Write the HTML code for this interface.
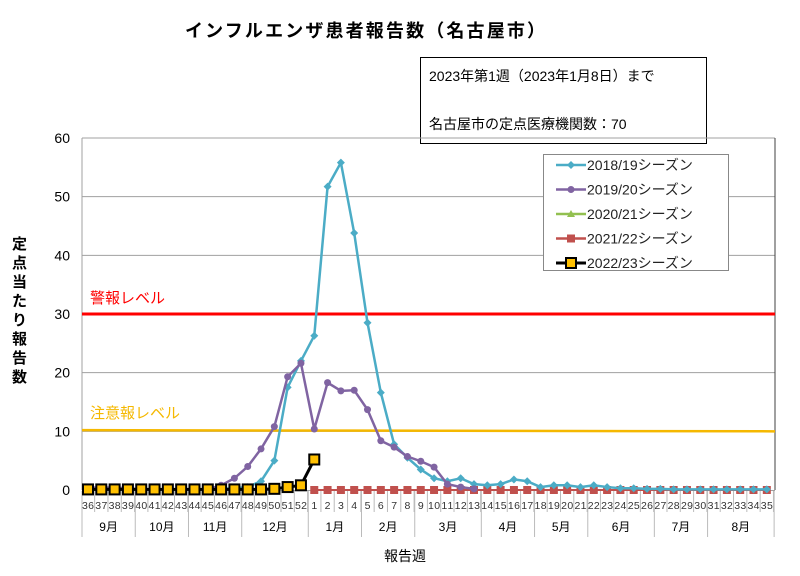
<!DOCTYPE html>
<html><head><meta charset="utf-8">
<style>
body{margin:0;background:#fff;}
svg text{font-family:"Liberation Sans","Noto Sans CJK JP",sans-serif;}
</style></head><body>
<svg id="c" width="800" height="571" xmlns="http://www.w3.org/2000/svg"></svg>
<script>
const s=document.getElementById('c');let h='';
const X=i=>88+i*13.31, Y=v=>490-v*5.867;
h+='<rect width="800" height="571" fill="#fff"/>';
h+='<text x="365" y="37" font-size="18" font-weight="bold" text-anchor="middle" fill="#000" textLength="360">インフルエンザ患者報告数（名古屋市）</text>';
h+='<rect x="420.5" y="57.5" width="286" height="86" fill="#fff" stroke="#000"/>';
h+='<text x="429" y="81" font-size="14">2023年第1週（2023年1月8日）まで</text>';
h+='<text x="429" y="129" font-size="14">名古屋市の定点医療機関数：70</text>';
for(let v=10;v<=60;v+=10){h+=`<line x1="82" x2="775" y1="${Y(v)}" y2="${Y(v)}" stroke="#a0a0a0"/>`;}
for(let v=0;v<=60;v+=10){h+=`<text x="70" y="${Y(v)+5}" font-size="14" text-anchor="end">${v}</text>`;}
h+='<line x1="82" x2="82" y1="138" y2="490" stroke="#a0a0a0"/><line x1="775" x2="775" y1="138" y2="490" stroke="#404040"/>';
h+='<line x1="82" x2="775" y1="490.5" y2="490.5" stroke="#a0a0a0"/>';
h+='<text font-size="15" font-weight="bold" x="0" y="0" transform="translate(12,249)">'+[...'定点当たり報告数'].map((c,i)=>`<tspan x="0" y="${i*19}">${c}</tspan>`).join('')+'</text>';
const wk=[];for(let w=36;w<=52;w++)wk.push(w);for(let w=1;w<=35;w++)wk.push(w);
wk.forEach((w,i)=>{h+=`<text x="${X(i)}" y="509" font-size="10.5" text-anchor="middle" fill="#333" textLength="${w>9?12:6}">${w}</text>`;
h+=`<line x1="${X(i)+6.65}" x2="${X(i)+6.65}" y1="491" y2="${512}" stroke="#bbb"/>`;});
const mb=[[0,'9月'],[4,'10月'],[8,'11月'],[12,'12月'],[17,'1月'],[21,'2月'],[25,'3月'],[30,'4月'],[34,'5月'],[38,'6月'],[43,'7月'],[47,'8月'],[52,'']];
h+=`<line x1="82" x2="82" y1="491" y2="537" stroke="#bbb"/>`;
for(let k=0;k<mb.length-1;k++){const a=82+mb[k][0]*13.31,b=82+mb[k+1][0]*13.31;h+=`<line x1="${b}" x2="${b}" y1="491" y2="537" stroke="#bbb"/><text x="${(a+b)/2}" y="531" font-size="12" text-anchor="middle">${mb[k][1]}</text>`;}
h+='<text x="405" y="561" font-size="14" text-anchor="middle">報告週</text>';
h+=`<line x1="82" x2="775" y1="${Y(30)}" y2="${Y(30)}" stroke="#f00" stroke-width="3"/>`;
h+=`<line x1="82" x2="775" y1="${Y(10.2)}" y2="${Y(10)}" stroke="#f5b800" stroke-width="2.5"/>`;
h+='<text x="90" y="303" font-size="15" fill="#f00">警報レベル</text><text x="90" y="418" font-size="15" fill="#f5b800">注意報レベル</text>';
function line(d,st,col,w,mk,start){let p=d.map((v,i)=>`${X(i+start)},${Y(v)}`).join(' ');h+=`<polyline points="${p}" fill="none" stroke="${col}" stroke-width="${w}"/>`;d.forEach((v,i)=>h+=mk(X(i+start),Y(v)));}
const z=n=>Array(n).fill(0);
const red=z(35);
line(z(35),0,'#92c050',2,(x,y)=>`<polygon points="${x},${y-4} ${x+4},${y+3} ${x-4},${y+3}" fill="#92c050"/>`,17);
line(red,0,'#c0504d',2,(x,y)=>`<rect x="${x-4}" y="${y-4}" width="8" height="8" fill="#c0504d"/>`,17);
const t=[0.1,0.1,0.1,0.1,0.1,0.1,0.1,0.1,0.1,0.1,0.2,0.3,0.5,1.5,5,17.5,22,26.3,51.7,55.8,43.8,28.5,16.6,7.8,5.5,3.5,2,1.5,2,1,0.8,1,1.8,1.5,0.5,0.8,0.8,0.5,0.8,0.5,0.3,0.3,0.2,0.2,0.1,0.1,0.1,0.1,0.1,0.1,0.1,0.1];
line(t,0,'#4bacc6',2.5,(x,y)=>`<polygon points="${x},${y-4} ${x+4},${y} ${x},${y+4} ${x-4},${y}" fill="#4bacc6"/>`,0);
const pu=[0.4,0.4,0.4,0.3,0.1,0.1,0.1,0.1,0.1,0.1,0.8,2,4,7,10.8,19.3,21.6,10.4,18.3,16.9,17,13.7,8.4,7.3,5.7,4.9,3.9,1,0.5,0.2];
line(pu,0,'#8064a2',2.5,(x,y)=>`<circle cx="${x}" cy="${y}" r="3.5" fill="#8064a2"/>`,0);
const bk=[0.1,0.1,0.1,0.1,0.1,0.1,0.1,0.1,0.1,0.1,0.1,0.1,0.1,0.1,0.2,0.5,0.8,5.2];
line(bk,0,'#000',3,(x,y)=>`<rect x="${x-5}" y="${y-5}" width="10" height="10" fill="#ffc000" stroke="#000" stroke-width="2"/>`,0);
h+='<rect x="543.5" y="154.5" width="185" height="116" fill="#fff" stroke="#888"/>';
const lg=[['2018/19','#4bacc6','d'],['2019/20','#8064a2','c'],['2020/21','#92c050','t'],['2021/22','#c0504d','s'],['2022/23','#000','b']];
lg.forEach((l,i)=>{const y=165+i*24.5,x=571;h+=`<line x1="556" x2="586" y1="${y}" y2="${y}" stroke="${l[1]}" stroke-width="${l[2]=='b'?3:2.5}"/>`;
if(l[2]=='d')h+=`<polygon points="${x},${y-4} ${x+4},${y} ${x},${y+4} ${x-4},${y}" fill="${l[1]}"/>`;
if(l[2]=='c')h+=`<circle cx="${x}" cy="${y}" r="3.5" fill="${l[1]}"/>`;
if(l[2]=='t')h+=`<polygon points="${x},${y-4} ${x+4},${y+3} ${x-4},${y+3}" fill="${l[1]}"/>`;
if(l[2]=='s')h+=`<rect x="${x-4}" y="${y-4}" width="8" height="8" fill="${l[1]}"/>`;
if(l[2]=='b')h+=`<rect x="${x-5}" y="${y-5}" width="10" height="10" fill="#ffc000" stroke="#000" stroke-width="2"/>`;
h+=`<text x="587" y="${y+5}" font-size="14" fill="#222">${l[0]}シーズン</text>`;});
s.innerHTML=h;
</script>
</body></html>
